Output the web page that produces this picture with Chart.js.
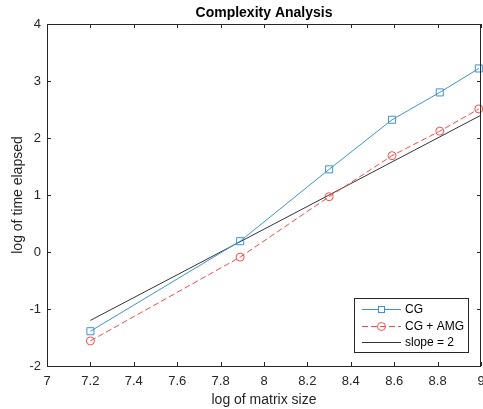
<!DOCTYPE html>
<html>
<head>
<meta charset="utf-8">
<script src="https://cdn.jsdelivr.net/npm/chart.js@4.4.0/dist/chart.umd.min.js"></script>
<style>
html,body{margin:0;padding:0;background:#fff;}
#wrap{width:483px;height:409px;position:relative;}
</style>
</head>
<body>
<div id="wrap"><canvas id="c" width="483" height="409"></canvas></div>
<script>
// Data
const xValues = [7.2, 7.89, 8.3, 8.59, 8.81, 8.99];
const cgValues = [-1.39, 0.19, 1.45, 2.32, 2.80, 3.22];
const amgValues = [-1.56, -0.09, 0.97, 1.69, 2.12, 2.51];
const slopeX = [7.2, 9.0];
const slopeY = [-1.2, 2.4];
const xTicks = [7, 7.2, 7.4, 7.6, 7.8, 8, 8.2, 8.4, 8.6, 8.8, 9];
const yTicks = [-2, -1, 0, 1, 2, 3, 4];
const seriesNames = ['CG', 'CG + AMG', 'slope = 2'];

const BLUE = '#3f93d2';
const RED = '#ff4a4a';
const BLACK = '#333333';
const FONT = '"Liberation Sans", Arial, sans-serif';

const toPts = (xs, ys) => xs.map((x, i) => ({x: x, y: ys[i]}));

const boxTicks = {
  id: 'boxTicks',
  afterDraw(chart) {
    const ctx = chart.ctx;
    const a = chart.chartArea;
    const xs = chart.scales.x, ys = chart.scales.y;
    ctx.save();
    ctx.strokeStyle = '#262626';
    ctx.lineWidth = 1;
    ctx.beginPath();
    ctx.rect(Math.round(a.left) + 0.5, Math.round(a.top) + 0.5, Math.round(a.right - a.left) - 1, Math.round(a.bottom - a.top));
    ctx.stroke();
    const L = 4;
    ctx.beginPath();
    xTicks.forEach(v => {
      const px = Math.round(xs.getPixelForValue(v)) + 0.5;
      ctx.moveTo(px, a.top); ctx.lineTo(px, a.top + L);
      ctx.moveTo(px, a.bottom); ctx.lineTo(px, a.bottom - L);
    });
    yTicks.forEach(v => {
      const py = Math.round(ys.getPixelForValue(v)) + 0.5;
      ctx.moveTo(a.left, py); ctx.lineTo(a.left + L, py);
      ctx.moveTo(a.right, py); ctx.lineTo(a.right - L, py);
    });
    ctx.stroke();

    // title
    ctx.fillStyle = '#000';
    ctx.font = 'bold 14px ' + FONT;
    ctx.textAlign = 'center';
    ctx.textBaseline = 'middle';
    ctx.fillText('Complexity Analysis', (a.left + a.right) / 2, 13);

    // legend
    const lx = 354, ly = 298, lw = 114, lh = 54;
    ctx.fillStyle = '#fff';
    ctx.fillRect(lx, ly, lw, lh);
    ctx.strokeStyle = '#262626';
    ctx.strokeRect(lx + 0.5, ly + 0.5, lw, lh);
    const rows = [309, 326, 342];
    const styles = [
      {c: BLUE, dash: [], m: 'rect'},
      {c: RED, dash: [6, 3], m: 'circle'},
      {c: BLACK, dash: [], m: null}
    ];
    ctx.font = '12px ' + FONT;
    ctx.textAlign = 'left';
    rows.forEach((ry, i) => {
      const s = styles[i];
      ctx.strokeStyle = s.c;
      ctx.setLineDash(s.dash);
      ctx.lineWidth = 1;
      ctx.beginPath();
      ctx.moveTo(362, ry + 0.5); ctx.lineTo(401, ry + 0.5);
      ctx.stroke();
      ctx.setLineDash([]);
      if (s.m === 'rect') {
        ctx.fillStyle = '#fff';
        ctx.fillRect(378, ry - 3, 7, 7);
        ctx.strokeRect(378.5, ry - 2.5, 6, 6);
      } else if (s.m === 'circle') {
        ctx.beginPath();
        ctx.arc(381.5, ry + 0.5, 4, 0, Math.PI * 2);
        ctx.stroke();
      }
      ctx.fillStyle = '#000';
      ctx.fillText(seriesNames[i], 405, ry + 1);
    });
    ctx.restore();
  }
};

new Chart(document.getElementById('c'), {
  type: 'scatter',
  data: {
    datasets: [
      {
        label: seriesNames[0],
        data: toPts(xValues, cgValues),
        showLine: true,
        borderColor: BLUE,
        backgroundColor: 'rgba(0,0,0,0)',
        borderWidth: 1,
        pointStyle: 'rect',
        pointRadius: 5,
        pointBorderWidth: 1,
        pointBorderColor: BLUE
      },
      {
        label: seriesNames[1],
        data: toPts(xValues, amgValues),
        showLine: true,
        borderColor: RED,
        backgroundColor: 'rgba(0,0,0,0)',
        borderWidth: 1,
        borderDash: [6, 3],
        pointStyle: 'circle',
        pointRadius: 4,
        pointBorderWidth: 1,
        pointBorderColor: RED
      },
      {
        label: seriesNames[2],
        data: toPts(slopeX, slopeY),
        showLine: true,
        borderColor: BLACK,
        borderWidth: 1,
        pointRadius: 0
      }
    ]
  },
  options: {
    responsive: false,
    animation: false,
    clip: false,
    layout: {autoPadding: false, padding: {top: 24, right: 2, left: 0, bottom: 0}},
    plugins: {legend: {display: false}, tooltip: {enabled: false}, title: {display: false}},
    scales: {
      x: {
        type: 'linear', min: 7, max: 9,
        afterBuildTicks: s => { s.ticks = xTicks.map(v => ({value: v})); },
        afterFit: s => { s.height = 43; s.paddingLeft = 0; s.paddingRight = 0; },
        grid: {display: false, drawTicks: false},
        border: {display: false},
        ticks: {color: '#262626', font: {family: FONT, size: 13}, padding: 8, maxRotation: 0, autoSkip: false,
          callback: v => String(v)},
        title: {display: true, text: 'log of matrix size', color: '#262626', font: {family: FONT, size: 14}, padding: {top: 0, bottom: 0}}
      },
      y: {
        type: 'linear', min: -2, max: 4,
        afterBuildTicks: s => { s.ticks = yTicks.map(v => ({value: v})); },
        afterFit: s => { s.width = 47; s.paddingTop = 0; s.paddingBottom = 0; },
        grid: {display: false, drawTicks: false},
        border: {display: false},
        ticks: {color: '#262626', font: {family: FONT, size: 13}, padding: 6, autoSkip: false,
          callback: v => String(v)},
        title: {display: true, text: 'log of time elapsed', color: '#262626', font: {family: FONT, size: 14}, padding: {top: 10, bottom: 0}}
      }
    }
  },
  plugins: [boxTicks]
});
</script>
</body>
</html>
